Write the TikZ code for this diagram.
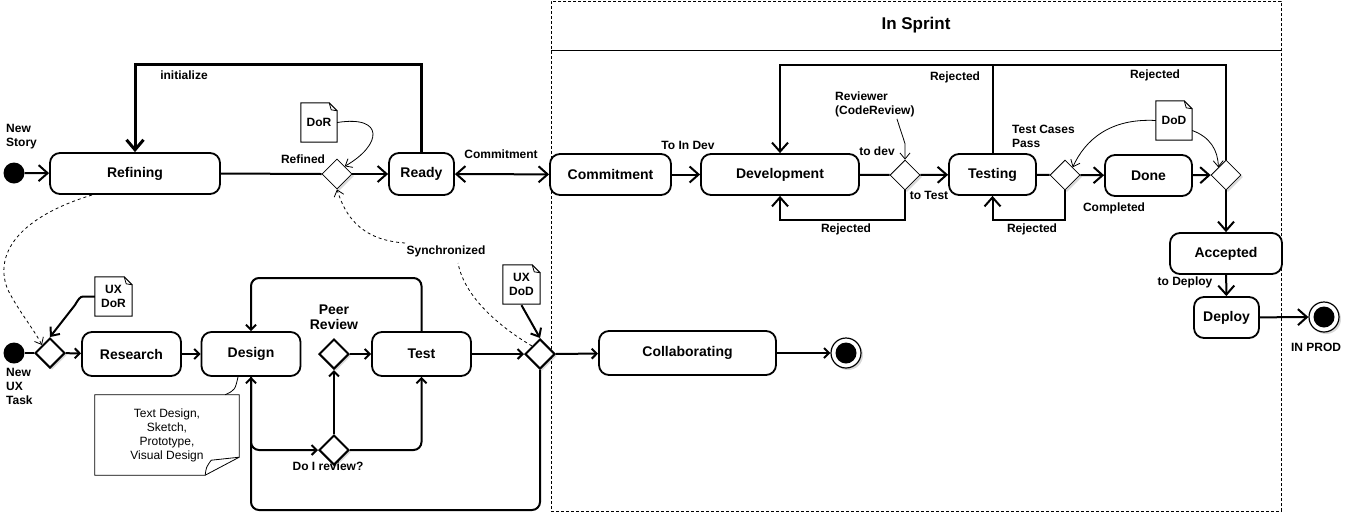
\documentclass[tikz,border=0pt]{standalone}
\usepackage{fontspec}
\setmainfont{Liberation Sans}
\usetikzlibrary{arrows.meta,shapes.geometric,shadows}
\newcommand\docout[1]{%
  \draw[line width=1pt] (#1.south west) -- (#1.north west) -- ([xshift=-8pt]#1.north east) -- ([yshift=-8pt]#1.north east) -- (#1.south east) -- cycle;
  \draw[line width=0.8pt] ([xshift=-8pt]#1.north east) -- ([xshift=-6pt,yshift=-7pt]#1.north east) -- ([yshift=-8pt]#1.north east);}
\begin{document}
\begin{tikzpicture}[x=1pt,y=-1pt,
  state/.style={draw,line width=1.8pt,rounded corners=10pt,fill=white,inner sep=0pt,font=\fontsize{14}{16}\selectfont\bfseries},
  lbl/.style={inner sep=0pt,font=\fontsize{12}{14}\selectfont\bfseries},
  choice/.style={diamond,draw,fill=white,minimum width=30pt,minimum height=30pt,inner sep=0pt,line width=0.8pt,drop shadow={shadow xshift=2pt,shadow yshift=-2pt,opacity=0.3}},
  choiceb/.style={choice,line width=2pt},
  conn/.style={line width=2pt,-{Straight Barb[length=9pt,width=16pt]}},
  mconn/.style={line width=2pt,-{Straight Barb[length=7pt,width=12pt]}},
  sconn/.style={line width=2pt,-{Straight Barb[length=5pt,width=10pt]}},
  tconn/.style={line width=0.8pt,-{Straight Barb[length=6pt,width=10pt]}},
  plain/.style={line width=2pt},
  dsh/.style={line width=0.8pt,dash pattern=on 3pt off 3pt},
  docn/.style={inner sep=0pt,minimum width=36pt,minimum height=39pt,align=center,font=\fontsize{12}{14}\selectfont\bfseries},
  startc/.style={circle,fill=black,minimum size=21pt,inner sep=0pt},
  endo/.style={circle,draw,line width=1.2pt,fill=white,minimum size=30pt,inner sep=0pt,drop shadow={shadow xshift=2pt,shadow yshift=-2pt,opacity=0.3}},
  endi/.style={circle,fill=black,minimum size=21pt,inner sep=0pt},
]
\useasboundingbox (0,0) rectangle (1359,512);
% In Sprint container
\node[draw,line width=0.8pt,dash pattern=on 3pt off 2pt,minimum width=730pt,minimum height=510pt,anchor=north west,inner sep=0pt] (sprint) at (551,1) {};
\draw[line width=1pt] (551,50) -- (1281,50);
\node[inner sep=0pt,font=\fontsize{17}{20}\selectfont\bfseries] (sprintlbl) at (916,25) {In Sprint};

% top row nodes
\node[startc] (s1) at (14,173) {};
\node[lbl,anchor=west,align=left] (s1lbl) at (6,137) {New\\Story};
\node[state,minimum width=170pt,minimum height=41pt] (refining) at (135,173.5) {Refining};
\node[choice] (refined) at (337,174) {};
\node[state,minimum width=65pt,minimum height=42pt] (ready) at (421.5,174) {Ready};
\node[docn] (dor) at (319,122.5) {DoR};
\docout{dor}
\node[state,minimum width=121pt,minimum height=41pt] (commit) at (610.5,174.5) {Commitment};
\node[state,minimum width=158pt,minimum height=41pt] (dev) at (780,174.5) {Development};
\node[choice] (d1) at (905,175) {};
\node[state,minimum width=87pt,minimum height=41pt] (testing) at (992.5,174.5) {Testing};
\node[choice] (d2) at (1065,175) {};
\node[state,minimum width=87pt,minimum height=41pt] (done) at (1148.5,175.5) {Done};
\node[choice] (d3) at (1226,175) {};
\node[docn] (dod) at (1174,120.5) {DoD};
\docout{dod}
\node[state,minimum width=112pt,minimum height=41pt] (accepted) at (1226,253.5) {Accepted};
\node[state,minimum width=65pt,minimum height=41pt] (deploy) at (1226.5,317.5) {Deploy};
\node[endo] (end2) at (1324,317) {};
\node[endi] (end2i) at (1324,317) {};

% top labels
\node[lbl] (linit) at (184,75) {initialize};
\node[lbl] (lrefined) at (303,159) {Refined};
\node[lbl] (lcommit) at (501,154) {Commitment};
\node[lbl] (ltoindev) at (688,145) {To In Dev};
\node[lbl,anchor=west,align=left] (lrev) at (835,104) {Reviewer\\(CodeReview)};
\node[lbl] (ltodev) at (877,151) {to dev};
\node[lbl] (ltotest) at (929,195) {to Test};
\node[lbl] (lrej1) at (846,229) {Rejected};
\node[lbl] (lrej2) at (955,77) {Rejected};
\node[lbl] (lrej3) at (1032,229) {Rejected};
\node[lbl] (lrej4) at (1155,75) {Rejected};
\node[lbl,anchor=west,align=left] (ltcp) at (1012,136) {Test Cases\\Pass};
\node[lbl] (lcompl) at (1114,208) {Completed};
\node[lbl] (ltodeploy) at (1185,282) {to Deploy};
\node[lbl] (linprod) at (1316,347) {IN PROD};

% bottom row nodes
\node[startc] (s2) at (14,353) {};
\node[lbl,anchor=west,align=left] (s2lbl) at (6,386) {New\\UX\\Task};
\node[choiceb] (da) at (50,353) {};
\node[docn,minimum width=37pt] (uxdor) at (113.5,296.5) {UX\\DoR};
\docout{uxdor}
\node[state,minimum width=99pt,minimum height=44pt] (research) at (131.5,354) {Research};
\node[state,minimum width=99pt,minimum height=44pt] (design) at (251,354) {Design};
\node[choiceb] (peer) at (334,354) {};
\node[inner sep=0pt,align=center,font=\fontsize{14}{15}\selectfont\bfseries] (lpeer) at (334,317) {Peer\\Review};
\node[state,minimum width=99pt,minimum height=44pt] (test) at (421.5,354) {Test};
\node[choiceb] (doi) at (334,450) {};
\node[lbl] (ldoi) at (328,466) {Do I review?};
\node[choiceb] (db) at (540,354) {};
\node[docn,minimum width=37pt] (uxdod) at (521.5,284.5) {UX\\DoD};
\docout{uxdod}
\node[state,minimum width=177pt,minimum height=44pt] (collab) at (687.5,353) {Collaborating};
\node[endo] (end1) at (846,353) {};
\node[endi] (end1i) at (846,353) {};
\node[lbl] (sync) at (446,251) {Synchronized};
\node[inner sep=0pt,minimum width=144pt,minimum height=80pt,align=center,font=\fontsize{12}{14}\selectfont] (note) at (167,435) {Text Design,\\Sketch,\\Prototype,\\Visual Design};
\draw[line width=0.8pt] (note.north west) -- (note.north east) -- ([yshift=18pt]note.south east) -- ([xshift=-34pt]note.south east) -- (note.south west) -- cycle;
\draw[line width=0.8pt] ([xshift=-34pt]note.south east) .. controls ([xshift=-33pt,yshift=8pt]note.south east) .. ([xshift=-28pt,yshift=15pt]note.south east) -- ([yshift=18pt]note.south east);

% top row connectors
\draw[conn] (s1) -- (refining);
\draw[plain] (refining.east) -- (refined.west);
\draw[conn] (refined) -- (ready);
\draw[line width=3pt,-{Straight Barb[length=10pt,width=17pt]}] (ready.north) -- ++(0,-88) -| (refining.north);
\draw[tconn] (dor.east) .. controls (385,115) and (382,145) .. (refined.north east);
\draw[line width=2pt,{Straight Barb[length=9pt,width=16pt]}-{Straight Barb[length=9pt,width=16pt]}] (ready) -- (commit);
\draw[conn] (commit) -- (dev);
\draw[plain] (dev) -- (d1);
\draw[conn] (d1) -- (testing);
\draw[conn] (d1.south) -- ++(0,30) -| (dev.south);
\coordinate (rj) at (992.5,65);
\draw[conn] (testing.north) |- (rj) -| (dev.north);
\draw[plain] (d3.north) |- (rj);
\draw[tconn] ([xshift=22pt,yshift=-2pt]lrev.south) -- ([yshift=16pt]d1.north) -- (d1.north);
\draw[plain] (testing) -- (d2);
\draw[conn] (d2) -- (done);
\draw[conn] (d2.south) -- ++(0,30) -| (testing.south);
\draw[conn] (done) -- (d3);
\draw[tconn] (dod.west) .. controls (1110,118) and (1085,140) .. (d2.north east);
\draw[tconn] ([yshift=-10pt]dod.east) .. controls (1210,137) and (1218,150) .. (d3.north west);
\draw[conn] (d3) -- (accepted);
\draw[conn] (accepted) -- (deploy);
\draw[conn] (deploy) -- (end2);

% bottom connectors
\draw[plain] (s2) -- (da);
\draw[sconn] (da) -- (research);
\draw[sconn] (research) -- (design);
\draw[sconn] (peer) -- (test);
\draw[sconn] (test) -- (db);
\draw[sconn] (db) -- (collab);
\draw[sconn] (collab) -- (end1);
\draw[sconn,rounded corners=8pt] (design.south) |- (doi.west);
\draw[sconn] (doi.north) -- (peer.south);
\draw[sconn,rounded corners=8pt] (doi.east) -| (test.south);
\coordinate (tl) at (251,278);
\draw[sconn,rounded corners=8pt] (test.north) |- (tl) -- (design.north);
\coordinate (bl) at (251,510);
\draw[sconn,rounded corners=8pt] (db.south) |- (bl) -- (design.south);
\draw[mconn] ([yshift=-1pt]uxdod.south) -- (db.north);
\draw[mconn] (uxdor.west) -- ++(-11,0) .. controls (80,296) and (78,300) .. (75,305) -- (da.north);
\draw[line width=0.8pt] ([xshift=-14pt]note.north east) .. controls (235,390) .. (238,377);

% dashed
\coordinate (rf1) at (92,195);
\draw[dsh,-{Straight Barb[length=6pt,width=10pt]}] (rf1) .. controls (10,220) and (-5,260) .. (8,290) .. controls (18,310) and (33,328) .. (da.north west);
\coordinate (sy1) at (458,263);
\coordinate (sy2) at (405,243);
\draw[dsh] (db.north west) .. controls (505,330) and (465,300) .. (sy1);
\draw[dsh,-{Straight Barb[length=6pt,width=10pt]}] (sy2) .. controls (360,240) and (345,215) .. (refined.south);
\end{tikzpicture}
\end{document}
